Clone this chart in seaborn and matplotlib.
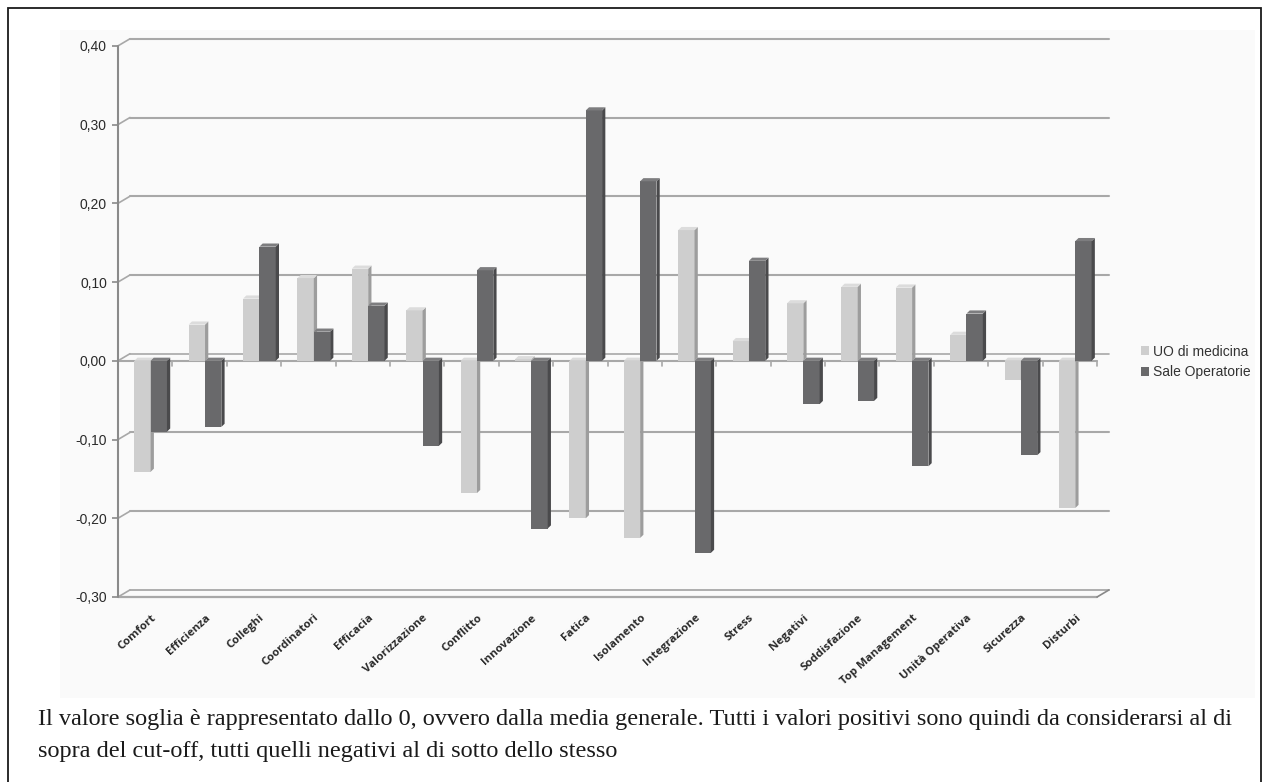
import numpy as np
import pandas as pd
import seaborn as sns
import matplotlib.pyplot as plt
from matplotlib.patches import Polygon, Rectangle

categories = ["Comfort", "Efficienza", "Colleghi", "Coordinatori", "Efficacia",
              "Valorizzazione", "Conflitto", "Innovazione", "Fatica", "Isolamento",
              "Integrazione", "Stress", "Negativi", "Soddisfazione", "Top Management",
              "Unità Operativa", "Sicurezza", "Disturbi"]
series_names = ["UO di medicina", "Sale Operatorie"]
uo_medicina = [-0.141, 0.046, 0.079, 0.105, 0.117, 0.064, -0.168, 0.002, -0.200,
               -0.225, 0.166, 0.025, 0.073, 0.094, 0.093, 0.033, -0.025, -0.187]
sale_operatorie = [-0.090, -0.084, 0.145, 0.037, 0.070, -0.108, 0.115, -0.213, 0.318,
                   0.228, -0.244, 0.127, -0.055, -0.051, -0.134, 0.060, -0.120, 0.152]
y_ticks = [-0.30, -0.20, -0.10, 0.00, 0.10, 0.20, 0.30, 0.40]
caption = ["Il valore soglia è rappresentato dallo 0, ovvero dalla media generale. "
           "Tutti i valori positivi sono quindi da considerarsi al di",
           "sopra del cut-off, tutti quelli negativi al di sotto dello stesso"]

df = pd.DataFrame({
    "categoria": categories * 2,
    "valore": uo_medicina + sale_operatorie,
    "serie": [series_names[0]] * len(categories) + [series_names[1]] * len(categories),
})

sns.set_style("white")
plt.rcParams["font.family"] = ["Liberation Sans", "DejaVu Sans"]

W, H = 1269, 782
fig = plt.figure(figsize=(W / 100, H / 100), dpi=100)
fig.patch.set_facecolor("white")

# light panel behind the chart
fig.patches.append(Rectangle((60 / W, 1 - 698 / H), (1255 - 60) / W, (698 - 30) / H,
                             transform=fig.transFigure, facecolor="#fafafa",
                             edgecolor="none", zorder=-5))
# outer frame
fig.patches.append(Rectangle((8 / W, -0.02), (1261 - 8) / W, 1 - 8 / H + 0.02,
                             transform=fig.transFigure, fill=False,
                             edgecolor="#1a1a1a", lw=1.3, zorder=5))

ax = fig.add_axes([118 / W, 1 - 597 / H, (1109 - 118) / W, (597 - 38) / H])
ax.set_facecolor("none")
ax.set_zorder(1)

light, dark = "#cecece", "#69696b"
sns.barplot(data=df, x="categoria", y="valore", hue="serie", palette=[light, dark],
            width=0.6, saturation=1, edgecolor="none", linewidth=0, legend=False,
            errorbar=None, ax=ax)

X0 = -0.6          # left edge of the front plane
DX, DY = 0.22, 0.009  # depth offset of the back wall
n = len(categories)
X1 = X0 + n
grid_c = "#a8a8a8"

# back-wall gridlines with short diagonal connectors to the front axis
for v in y_ticks:
    if v in (-0.30, 0.00):
        continue
    ax.plot([X0 + DX, X1 + DX], [v + DY, v + DY], color=grid_c, lw=1.5, zorder=1,
            clip_on=False)
    ax.plot([X0, X0 + DX], [v, v + DY], color=grid_c, lw=1.2, zorder=1, clip_on=False)

# zero level: front edge, back edge, boundary ticks
ax.plot([X0, X1], [0, 0], color=grid_c, lw=1.5, zorder=1, clip_on=False)
ax.plot([X0 + DX, X1 + DX], [DY, DY], color=grid_c, lw=1.2, zorder=1, clip_on=False)
ax.plot([X0, X0 + DX], [0, DY], color=grid_c, lw=1.2, zorder=1, clip_on=False)
for k in range(1, n + 1):
    ax.plot([X0 + k, X0 + k], [0, -0.006], color=grid_c, lw=1.2, zorder=1)

# floor at the bottom of the scale
ax.plot([X0, X1], [-0.30, -0.30], color=grid_c, lw=1.6, zorder=1, clip_on=False)
ax.plot([X0 + DX, X1 + DX], [-0.30 + DY, -0.30 + DY], color=grid_c, lw=1.3, zorder=1,
        clip_on=False)
ax.plot([X0, X0 + DX], [-0.30, -0.30 + DY], color=grid_c, lw=1.2, zorder=1, clip_on=False)
ax.plot([X1, X1 + DX], [-0.30, -0.30 + DY], color="#888888", lw=1.2, zorder=1,
        clip_on=False)

# vertical axis line
ax.plot([X0, X0], [-0.30, 0.40], color="#8a8a8a", lw=1.5, zorder=1, clip_on=False)

# give each bar a side face and a top face
faces = {light: ("#9d9d9d", "#dcdcdc"), dark: ("#4a4a4c", "#7d7d7f")}
SDX, SDY = 0.06, 0.004
for i, p in enumerate(list(ax.patches)):
    base_z = 2 if i < n else 3
    front = light if i < n else dark
    p.set_facecolor(front)
    p.set_zorder(base_z)
    x0, w = p.get_x(), p.get_width()
    y0, h = p.get_y(), p.get_height()
    x1 = x0 + w
    top, bot = max(y0, y0 + h), min(y0, y0 + h)
    side_c, top_c = faces[front]
    ax.add_patch(Polygon([(x1, bot), (x1 + SDX, bot + SDY), (x1 + SDX, top + SDY),
                          (x1, top)], closed=True, facecolor=side_c, edgecolor="none",
                         zorder=base_z + 0.5))
    ax.add_patch(Polygon([(x0, top), (x0 + SDX, top + SDY), (x1 + SDX, top + SDY),
                          (x1, top)], closed=True, facecolor=top_c, edgecolor="none",
                         zorder=base_z + 0.5))

ax.set_xlim(X0, X1 + DX)
ax.set_ylim(-0.30, 0.41)
for s in ax.spines.values():
    s.set_visible(False)

ax.set_yticks(y_ticks)
ax.set_yticklabels([f"{v:.2f}".replace(".", ",") for v in y_ticks])
ax.tick_params(axis="y", length=4, width=1.2, color="#8a8a8a", pad=4,
               labelsize=10, labelcolor="#2a2a2a", left=True)

ax.set_xticks(range(n))
ax.set_xticklabels(categories, rotation=42, ha="right", va="top",
                   rotation_mode="anchor", fontsize=8.2, fontweight="bold",
                   color="#2a2a2a", family=["Open Sans", "DejaVu Sans"])
ax.tick_params(axis="x", length=0, pad=11, bottom=True)
ax.set_xlabel("")
ax.set_ylabel("")

handles = [Rectangle((0, 0), 1, 1, facecolor=c, edgecolor="none") for c in (light, dark)]
fig.legend(handles, series_names, loc="center left",
           bbox_to_anchor=(1128 / W, 1 - 362 / H), frameon=False, fontsize=10,
           handlelength=0.6, handleheight=0.6, handletextpad=0.3, labelspacing=0.5,
           labelcolor="#333333")

for j, line in enumerate(caption):
    fig.text(38 / W, 1 - (720 + 32 * j) / H, line, family=["Liberation Serif", "DejaVu Serif"],
             fontsize=17.5, color="#1a1a1a", va="center", ha="left")

fig.savefig("out.png", dpi=100, facecolor="white")
